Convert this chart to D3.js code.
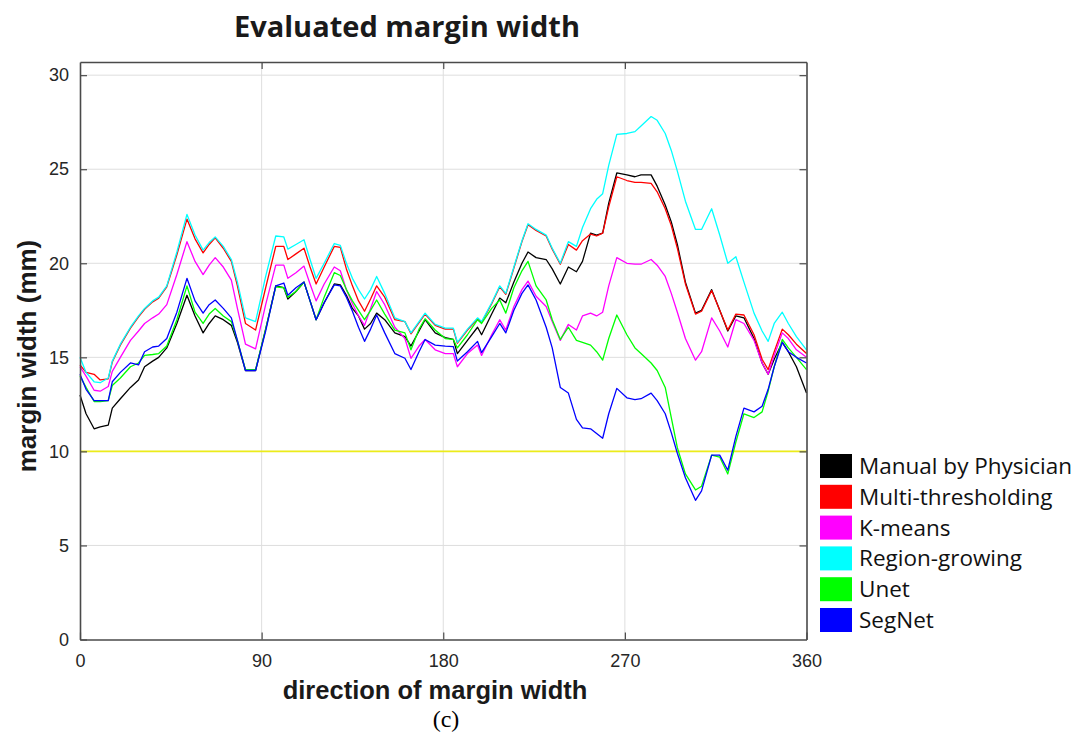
<!DOCTYPE html>
<html>
<head>
<meta charset="utf-8">
<script src="https://cdn.jsdelivr.net/npm/d3@7"></script>
<style>
  body { margin: 0; background: #fff; }
  svg { display: block; }
</style>
</head>
<body>
<svg id="chart" width="1081" height="738"></svg>
<script>
// Direction around the lesion (degrees) at which every method's margin was sampled
const angles = [
  0, 3, 7, 10, 14, 16, 20, 25, 29, 32, 36, 39,
  43, 48, 53, 57, 61, 64, 67, 71, 75, 78, 82, 87,
  92, 97, 101, 103, 107, 111, 114, 117, 121, 126, 129, 132,
  135, 138, 141, 144, 147, 151, 156, 161, 164, 168, 171, 176,
  181, 185, 187, 192, 197, 199, 204, 208, 211, 215, 219, 222,
  226, 231, 234, 238, 242, 246, 249, 253, 256, 259, 262, 266,
  271, 275, 278, 283, 286, 290, 293, 296, 300, 305, 308, 313,
  317, 321, 325, 329, 334, 338, 341, 344, 348, 351, 355, 360
];

// Margin width (mm) per method
const manual = [
  13.0, 12.0, 11.2, 11.3, 11.4, 12.3, 12.8, 13.4, 13.8, 14.5, 14.8, 15.0,
  15.5, 16.8, 18.3, 17.2, 16.3, 16.8, 17.2, 17.0, 16.7, 15.8, 14.3, 14.3,
  16.5, 18.8, 18.7, 18.1, 18.5, 19.0, 18.0, 17.0, 17.9, 18.9, 18.85, 18.3,
  17.6, 17.2, 16.5, 16.8, 17.35, 17.0, 16.3, 16.1, 15.6, 16.4, 17.0, 16.3,
  16.05, 15.95, 15.2, 15.9, 16.6, 16.2, 17.3, 18.15, 17.9, 19.0, 20.0, 20.6,
  20.3, 20.2, 19.7, 18.9, 19.8, 19.55, 20.1, 21.6, 21.5, 21.6, 23.2, 24.8,
  24.7, 24.6, 24.7, 24.7, 24.1, 23.1, 22.2, 21.0, 19.0, 17.35, 17.5, 18.6,
  17.5, 16.4, 17.2, 17.1, 16.0, 14.7, 14.1, 14.9, 15.8, 15.3, 14.5, 13.1
];
const multiThresholding = [
  14.6, 14.2, 14.1, 13.8, 13.85, 14.75, 15.65, 16.55, 17.15, 17.55, 17.95, 18.15,
  18.75, 20.45, 22.35, 21.3, 20.55, 21.0, 21.35, 20.8, 20.1, 18.8, 16.8, 16.45,
  18.7, 20.9, 20.9, 20.2, 20.5, 20.8, 19.8, 18.9, 19.8, 20.9, 20.85, 19.7,
  18.8, 18.0, 17.45, 18.1, 18.8, 18.2, 17.0, 16.9, 16.25, 16.85, 17.3, 16.7,
  16.5, 16.5, 15.75, 16.45, 17.05, 16.85, 17.85, 18.75, 18.35, 19.75, 21.15, 22.05,
  21.75, 21.45, 20.75, 19.95, 21.0, 20.7, 21.2, 21.55, 21.45, 21.6, 23.0, 24.6,
  24.4, 24.3, 24.3, 24.25, 23.8, 22.9, 22.0, 20.8, 18.9, 17.3, 17.45, 18.55,
  17.5, 16.45, 17.3, 17.25, 16.2, 14.9, 14.35, 15.3, 16.5, 16.2, 15.7, 15.2
];
const kMeans = [
  14.5, 14.0, 13.25, 13.2, 13.45, 14.25, 15.0, 15.9, 16.4, 16.8, 17.1, 17.3,
  17.8, 19.4, 21.15, 20.1, 19.4, 19.9, 20.3, 19.8, 19.1, 17.6, 15.7, 15.45,
  17.8, 19.9, 19.9, 19.2, 19.5, 19.85, 18.9, 18.0, 18.9, 19.8, 19.6, 18.6,
  17.85, 17.2, 16.7, 17.6, 18.5, 17.8, 16.6, 16.0, 14.95, 15.6, 15.95, 15.4,
  15.2, 15.2, 14.5, 15.2, 15.65, 15.1, 16.2, 17.0, 16.45, 17.7, 18.6, 19.05,
  18.25, 17.7, 16.9, 15.9, 16.75, 16.45, 17.2, 17.35, 17.2, 17.4, 18.8, 20.3,
  20.0, 19.95, 19.95, 20.2, 19.9, 19.3, 18.4, 17.4, 16.0, 14.85, 15.3, 17.1,
  16.4, 15.55, 17.0, 16.8, 15.9, 14.7, 14.1, 15.1, 16.3, 16.0, 15.4, 15.0
];
const regionGrowing = [
  15.0, 14.2, 13.7, 13.65, 13.9, 14.8, 15.7, 16.6, 17.2, 17.6, 18.0, 18.2,
  18.8, 20.6, 22.6, 21.5, 20.7, 21.1, 21.4, 20.9, 20.2, 19.0, 17.1, 16.9,
  19.3, 21.45, 21.4, 20.75, 21.0, 21.25, 20.2, 19.2, 20.0, 21.05, 20.95, 20.0,
  19.2, 18.6, 18.1, 18.6, 19.3, 18.4, 17.1, 16.9, 16.3, 16.9, 17.35, 16.75,
  16.55, 16.55, 15.8, 16.5, 17.1, 16.9, 17.9, 18.8, 18.4, 19.8, 21.2, 22.1,
  21.8, 21.5, 20.8, 20.0, 21.15, 20.9, 21.9, 22.9, 23.4, 23.7, 25.2, 26.85,
  26.9, 27.0, 27.3, 27.8, 27.6, 26.9, 26.0, 24.9, 23.3, 21.8, 21.8, 22.9,
  21.5, 20.0, 20.35, 19.0, 17.35, 16.4, 15.85, 16.8, 17.4, 16.8, 16.1, 15.4
];
const unet = [
  14.0, 13.4, 12.65, 12.65, 12.7, 13.5, 13.9, 14.5, 14.7, 15.1, 15.15, 15.2,
  15.6, 17.0, 18.8, 17.4, 16.8, 17.3, 17.6, 17.2, 16.9, 15.9, 14.35, 14.35,
  16.5, 18.75, 18.7, 18.2, 18.5, 19.0, 18.0, 17.0, 18.2, 19.5, 19.35, 18.6,
  18.0, 17.5, 17.0, 17.5, 18.05, 17.3, 16.45, 16.3, 15.4, 16.5, 17.05, 16.45,
  16.0, 15.95, 15.5, 16.2, 17.0, 16.8, 17.6, 18.05, 17.35, 18.7, 19.6, 20.1,
  18.8, 18.05, 17.0, 15.95, 16.6, 15.9, 15.8, 15.65, 15.3, 14.85, 16.0, 17.25,
  16.2, 15.5, 15.2, 14.7, 14.3, 13.4, 11.8, 10.2, 8.8, 7.95, 8.15, 9.8,
  9.7, 8.8, 10.5, 12.0, 11.8, 12.1, 13.2, 14.5, 15.95, 15.5, 15.0, 14.35
];
const segNet = [
  14.1, 13.3, 12.7, 12.7, 12.7, 13.7, 14.2, 14.7, 14.6, 15.3, 15.55, 15.6,
  16.0, 17.4, 19.2, 18.0, 17.35, 17.8, 18.05, 17.6, 17.1, 15.9, 14.3, 14.3,
  16.4, 18.8, 18.95, 18.3, 18.7, 19.0, 18.0, 17.0, 17.9, 18.85, 18.8, 18.2,
  17.45, 16.6, 15.85, 16.5, 17.25, 16.3, 15.2, 14.95, 14.35, 15.3, 15.95, 15.65,
  15.6, 15.57, 14.8, 15.3, 15.85, 15.25, 16.1, 16.8, 16.3, 17.5, 18.4, 18.85,
  18.05, 16.6, 15.5, 13.4, 13.1, 11.7, 11.25, 11.2, 10.95, 10.7, 12.0, 13.35,
  12.85, 12.75, 12.8, 13.1, 12.7, 12.0, 11.0, 9.9, 8.6, 7.4, 7.9, 9.8,
  9.8, 9.0, 10.8, 12.3, 12.1, 12.4, 13.3, 14.5, 15.8, 15.3, 15.0, 14.7
];

const seriesNames = ["Manual by Physician", "Multi-thresholding", "K-means",
                     "Region-growing", "Unet", "SegNet"];
const seriesValues = [manual, multiThresholding, kMeans, regionGrowing, unet, segNet];
const seriesColors = ["#000000", "#ff0000", "#ff00ff", "#00ffff", "#00ff00", "#0000ff"];

const xTicks = [0, 90, 180, 270, 360];
const yTicks = [0, 5, 10, 15, 20, 25, 30];
const threshold = 10;   // reference margin (mm)

const titleText = "Evaluated margin width";
const xLabel = "direction of margin width";
const yLabel = "margin width (mm)";
const caption = "(c)";

// ---- layout ----
const svg = d3.select("#chart");
const plot = { left: 80, right: 806.5, top: 62, bottom: 639.5 };

const x = d3.scaleLinear().domain([0, 360]).range([plot.left, plot.right]);
const y = d3.scaleLinear().domain([0, 30.7]).range([plot.bottom, plot.top]);

const tickFont = "'Liberation Sans', Arial, sans-serif";
const axisColor = "#4a4a4a";

// grid
const grid = svg.append("g").attr("stroke", "#dedede").attr("stroke-width", 1);
grid.selectAll("line.v").data(xTicks.slice(1, -1)).join("line")
  .attr("x1", d => x(d)).attr("x2", d => x(d))
  .attr("y1", plot.top).attr("y2", plot.bottom);
grid.selectAll("line.h").data(yTicks.slice(1)).join("line")
  .attr("x1", plot.left).attr("x2", plot.right)
  .attr("y1", d => y(d)).attr("y2", d => y(d));

// threshold line
svg.append("line")
  .attr("x1", x(0)).attr("x2", x(360))
  .attr("y1", y(threshold)).attr("y2", y(threshold))
  .attr("stroke", "#ecec1a").attr("stroke-width", 1.6);

// series
const line = d3.line()
  .x((d, i) => x(angles[i]))
  .y(d => y(d));

svg.append("g").selectAll("path").data(seriesValues).join("path")
  .attr("d", d => line(d))
  .attr("fill", "none")
  .attr("stroke", (d, i) => seriesColors[i])
  .attr("stroke-width", 1.3)
  .attr("stroke-linejoin", "round");

// axes (inward ticks on all four sides)
function styleAxis(g) {
  g.select(".domain").attr("stroke", axisColor).attr("stroke-width", 1.6);
  g.selectAll(".tick line").attr("stroke", axisColor).attr("stroke-width", 1.2);
  g.selectAll(".tick text").attr("fill", "#262626")
    .attr("font-family", tickFont).attr("font-size", 18);
}

svg.append("g").attr("transform", `translate(0,${plot.bottom})`)
  .call(d3.axisBottom(x).tickValues(xTicks).tickSize(-7).tickSizeOuter(0).tickPadding(15))
  .call(styleAxis);
svg.append("g").attr("transform", `translate(0,${plot.top})`)
  .call(d3.axisTop(x).tickValues(xTicks.slice(1, -1)).tickSize(-7).tickSizeOuter(0).tickFormat(""))
  .call(styleAxis);
svg.append("g").attr("transform", `translate(${plot.left},0)`)
  .call(d3.axisLeft(y).tickValues(yTicks).tickSize(-7).tickSizeOuter(0).tickPadding(11))
  .call(styleAxis);
svg.append("g").attr("transform", `translate(${plot.right},0)`)
  .call(d3.axisRight(y).tickValues(yTicks.slice(1)).tickSize(-7).tickSizeOuter(0).tickFormat(""))
  .call(styleAxis);

// titles
svg.append("text")
  .attr("x", 407).attr("y", 37)
  .attr("text-anchor", "middle")
  .attr("font-family", "'Open Sans', sans-serif")
  .attr("font-weight", 700).attr("font-size", 29)
  .attr("fill", "#1a1a1a")
  .text(titleText);

svg.append("text")
  .attr("x", 435).attr("y", 699)
  .attr("text-anchor", "middle")
  .attr("font-family", tickFont)
  .attr("font-weight", 700).attr("font-size", 25.5)
  .attr("fill", "#1a1a1a")
  .text(xLabel);

svg.append("text")
  .attr("transform", "translate(36,356) rotate(-90)")
  .attr("text-anchor", "middle")
  .attr("font-family", tickFont)
  .attr("font-weight", 700).attr("font-size", 26)
  .attr("fill", "#1a1a1a")
  .text(yLabel);

svg.append("text")
  .attr("x", 446).attr("y", 727)
  .attr("text-anchor", "middle")
  .attr("font-family", "'Liberation Serif', 'Times New Roman', serif")
  .attr("font-size", 24)
  .attr("fill", "#000")
  .text(caption);

// legend
const legend = svg.append("g").attr("transform", "translate(820,454)");
const rows = legend.selectAll("g").data(seriesNames).join("g")
  .attr("transform", (d, i) => `translate(0,${i * 30.8})`);
rows.append("rect")
  .attr("width", 32).attr("height", 24)
  .attr("fill", (d, i) => seriesColors[i]);
rows.append("text")
  .attr("x", 39).attr("y", 20)
  .attr("font-family", "'Open Sans', sans-serif")
  .attr("font-size", 22.5)
  .attr("fill", "#111")
  .text(d => d);
</script>
</body>
</html>
